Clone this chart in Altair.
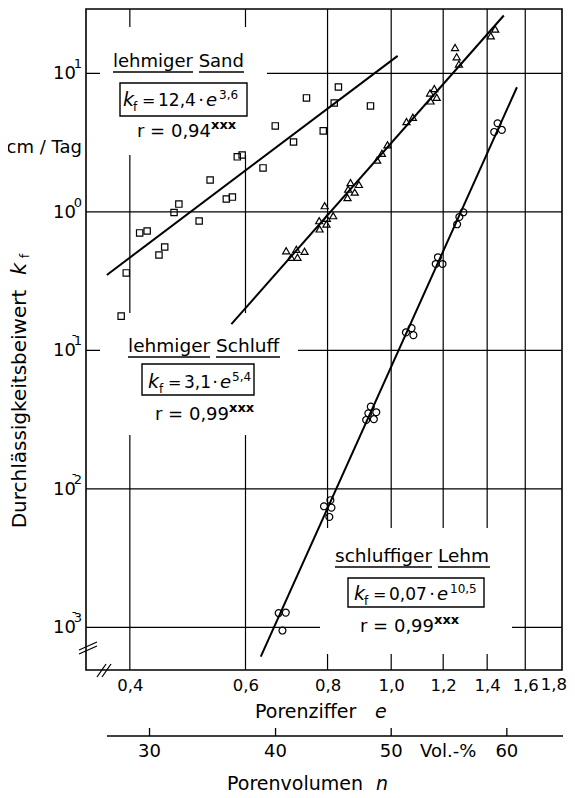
import altair as alt
import pandas as pd

FONT = "DejaVu Sans"

# ---- data ----
sand_e = [0.388, 0.395, 0.414, 0.425, 0.443, 0.452, 0.467, 0.475, 0.510, 0.530, 0.561,
          0.573, 0.583, 0.593, 0.638, 0.666, 0.710, 0.743, 0.788, 0.819, 0.831, 0.930]
sand_kf = [0.177, 0.363, 0.706, 0.729, 0.489, 0.559, 0.99, 1.14, 0.861, 1.70, 1.24,
           1.28, 2.50, 2.58, 2.08, 4.18, 3.20, 6.66, 3.85, 6.12, 7.99, 5.83]

schluff_e = [0.692, 0.717, 0.738, 0.704, 0.720, 0.792, 0.777, 0.798, 0.816, 0.778, 0.797,
             0.867, 0.893, 0.860, 0.880, 0.858, 0.952, 0.968, 0.987, 1.055, 1.079,
             1.146, 1.163, 1.148, 1.173, 1.251, 1.258, 1.268, 1.440, 1.418]
schluff_kf = [0.525, 0.538, 0.520, 0.471, 0.471, 1.11, 0.865, 0.901, 0.940, 0.754, 0.819,
              1.63, 1.58, 1.46, 1.39, 1.27, 2.37, 2.65, 3.05, 4.49, 4.83,
              7.23, 7.77, 6.33, 6.73, 15.4, 13.2, 11.7, 20.9, 18.7]

lehm_e = [0.674, 0.691, 0.683, 0.808, 0.790, 0.811, 0.805, 0.931, 0.923, 0.949, 0.916,
          0.941, 1.074, 1.053, 1.081, 1.178, 1.169, 1.197, 1.288, 1.270, 1.260,
          1.452, 1.435, 1.474]
lehm_kf = [0.00127, 0.00128, 0.00095, 0.00829, 0.0075, 0.00733, 0.00628, 0.0393, 0.0352,
           0.0358, 0.0315, 0.0319, 0.145, 0.135, 0.129, 0.471, 0.421, 0.421, 0.995,
           0.920, 0.815, 4.37, 3.78, 3.91]

line_soil = ["Sand", "Sand", "Schluff", "Schluff", "Lehm", "Lehm"]
line_e = [0.369, 1.023, 0.571, 1.484, 0.633, 1.554]
line_kf = [0.351, 13.4, 0.155, 26.2, 0.000615, 7.95]

x_ticks = [0.4, 0.6, 0.8, 1.0, 1.2, 1.4, 1.6]
x_last = [1.8]
x_grid = [0.4, 0.6, 0.8, 1.0, 1.2, 1.4, 1.6]
y_ticks = [0.001, 0.01, 0.1, 1.0, 10.0]
y_exp = ["3", "2", "1", "0", "1"]
y_sign = ["-", "-", "-", "", ""]
n_ticks = [30, 40, 50, 60]

# ---- scales / axes ----
XS = alt.Scale(type="log", domain=[0.343, 1.82], nice=False)
YS = alt.Scale(type="log", domain=[0.000493, 29.2], nice=False)
XAX = alt.Axis(values=x_ticks, labelExpr="replace(format(datum.value, '.1f'), '.', ',')",
               title=None, grid=False, ticks=False, tickSize=0, domain=False,
               labelPadding=7, labelFontSize=16.5, labelFont=FONT, labelColor="black",
               labelFlush=False)


def xe():
    return alt.X("e:Q", scale=XS, axis=XAX)


def ye():
    return alt.Y("kf:Q", scale=YS, axis=None)


def T(s, x, y, size=18, italic=False, align="left", baseline="alphabetic", angle=0,
      weight="normal"):
    return alt.Chart().mark_text(
        text=s, font=FONT, fontSize=size, fontStyle="italic" if italic else "normal",
        fontWeight=weight, align=align, baseline=baseline, angle=angle, color="black"
    ).encode(x=alt.value(x), y=alt.value(y))


def R(x1, y1, x2, y2, w=1.3):
    return alt.Chart().mark_rule(color="black", strokeWidth=w).encode(
        x=alt.value(x1), y=alt.value(y1), x2=alt.value(x2), y2=alt.value(y2))


def B(x1, y1, x2, y2, stroke=False):
    kw = dict(fill="white")
    if stroke:
        kw.update(stroke="black", strokeWidth=1.4)
    return alt.Chart().mark_rect(**kw).encode(
        x=alt.value(x1), y=alt.value(y1), x2=alt.value(x2), y2=alt.value(y2))


L = []
# grid
L.append(alt.Chart(pd.DataFrame({"e": x_grid})).mark_rule(color="black", strokeWidth=1.2)
         .encode(x=xe()))
L.append(alt.Chart(pd.DataFrame({"kf": y_ticks})).mark_rule(color="black", strokeWidth=1.2)
         .encode(y=ye()))
# white label areas interrupting the grid
L += [B(14, 18, 181, 146), B(14, 304, 212, 426), B(234, 519, 426, 645)]

# last x label, nudged inside the page
L.append(alt.Chart(pd.DataFrame({"e": x_last})).mark_text(
    font=FONT, fontSize=16.5, align="center", baseline="top", dx=-5, color="black",
    text="1,8").encode(x=xe(), y=alt.value(668)))

# y tick labels: 10 with raised exponent
ylab = pd.DataFrame({"kf": y_ticks, "ex": y_exp, "sg": y_sign})
L.append(alt.Chart(ylab).mark_text(font=FONT, fontSize=18, align="right", baseline="middle",
                                   dy=1, color="black", text="10")
         .encode(x=alt.value(-10), y=ye()))
L.append(alt.Chart(ylab).mark_text(font=FONT, fontSize=13, align="right", baseline="middle",
                                   dy=-9, color="black")
         .encode(x=alt.value(-4), y=ye(), text="ex:N"))
L.append(alt.Chart(ylab).mark_text(font=FONT, fontSize=13, align="center", baseline="middle",
                                   dy=-15, color="black")
         .encode(x=alt.value(-12), y=ye(), text="sg:N"))

# regression lines
line_df = pd.DataFrame({"soil": line_soil, "e": line_e, "kf": line_kf})
L.append(alt.Chart(line_df).mark_line(color="black", strokeWidth=2)
         .encode(x=xe(), y=ye(), detail="soil:N"))

# points
for e_, k_, shp, sz in [(sand_e, sand_kf, "square", 40),
                        (schluff_e, schluff_kf, "triangle-up", 50),
                        (lehm_e, lehm_kf, "circle", 48)]:
    L.append(alt.Chart(pd.DataFrame({"e": e_, "kf": k_}))
             .mark_point(shape=shp, size=sz, filled=False, color="black",
                         strokeWidth=1.2, opacity=1)
             .encode(x=xe(), y=ye()))

# ---- annotation: lehmiger Sand ----
L += [T("lehmiger Sand", 27, 58),
      R(27, 63, 107, 63), R(113, 63, 158, 63),
      B(34, 74, 161, 107, stroke=True),
      T("k", 37, 97, 19, italic=True), T("f", 47, 102, 12),
      T("=", 56, 97, 16), T("12,4", 72, 97, 17), T("\u00b7", 115, 97, align="center"),
      T("e", 120, 97, 18, italic=True), T("3,6", 133, 90, 12),
      T("r = 0,94", 51, 128), T("xxx", 125, 120, 13, weight="bold")]

# ---- annotation: lehmiger Schluff ----
L += [T("lehmiger Schluff", 42, 343, 18.5),
      R(42, 348, 124, 348), R(130, 348, 194, 348),
      B(56, 355, 168, 386, stroke=True),
      T("k", 62, 379, 19, italic=True), T("f", 73, 384, 12),
      T("=", 82, 379, 16), T("3,1", 98, 379, 17), T("\u00b7", 129, 379, align="center"),
      T("e", 134, 379, 18, italic=True), T("5,4", 146, 372, 12),
      T("r = 0,99", 69, 411), T("xxx", 143, 403, 13, weight="bold")]

# ---- annotation: schluffiger Lehm ----
L += [T("schluffiger Lehm", 249, 553, 18.5),
      R(249, 558, 346, 558), R(352, 558, 404, 558),
      B(262, 569, 398, 598, stroke=True),
      T("k", 268, 591, 19, italic=True), T("f", 278, 596, 12),
      T("=", 287, 591, 16), T("0,07", 303, 591, 17), T("\u00b7", 346, 591, align="center"),
      T("e", 351, 591, 18, italic=True), T("10,5", 364, 584, 12),
      T("r = 0,99", 274, 623), T("xxx", 348, 615, 13, weight="bold")]

# ---- axis titles ----
L += [T("cm / Tag", -4, 144, 18, align="right"),
      T("Durchl\u00e4ssigkeitsbeiwert", -66, 400, 20, align="center", baseline="middle",
        angle=270),
      T("k", -66, 260, 21, italic=True, align="center", baseline="middle", angle=270),
      T("f", -61, 247, 13, align="center", baseline="middle", angle=270),
      T("Porenziffer", 169, 709, 19), T("e", 289, 709, 19, italic=True)]

# ---- secondary axis: Porenvolumen n ----
sec_df = pd.DataFrame({"n": n_ticks})
sec_df["e"] = sec_df["n"] / (100 - sec_df["n"])
sec_df["lab"] = sec_df["n"].astype(str)
L += [R(21, 727, 477, 727, 1.5),
      alt.Chart(sec_df).mark_rule(color="black", strokeWidth=1.3)
      .encode(x=xe(), y=alt.value(719), y2=alt.value(727)),
      alt.Chart(sec_df).mark_text(font=FONT, fontSize=18, baseline="alphabetic",
                                  color="black")
      .encode(x=xe(), y=alt.value(748), text="lab:N"),
      T("Vol.-%", 334, 748, 18),
      T("Porenvolumen", 141, 781, 19), T("n", 290, 781, 19, italic=True)]

# ---- axis break marks ----
L += [R(-7, 645, 11, 637), R(-7, 641, 11, 633),
      R(11, 668, 20, 655), R(16, 668, 25, 655)]

chart = alt.layer(*L).properties(
    width=476, height=661,
    autosize=alt.AutoSizeParams(type="none"),
    padding={"left": 78, "top": 1, "right": 5, "bottom": 124},
    background="white",
).configure_view(stroke="black", strokeWidth=1.6)

chart.save("out.html", embed_options={"renderer": "svg", "actions": False})
